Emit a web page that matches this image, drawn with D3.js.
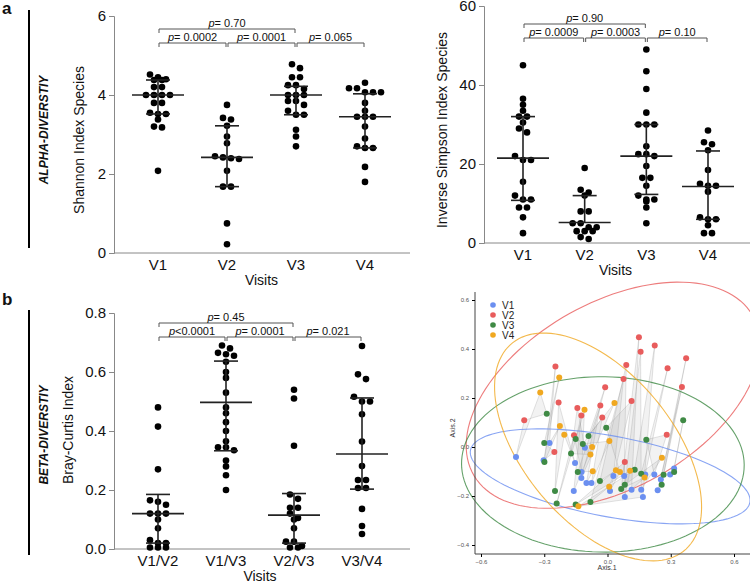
<!DOCTYPE html>
<html>
<head>
<meta charset="utf-8">
<script src="https://cdn.jsdelivr.net/npm/d3@7"></script>
<style>
  body { margin: 0; background: #fff; }
  text { font-family: "Liberation Sans", Arial, sans-serif; fill: #111; }
</style>
</head>
<body>
<svg id="fig" width="750" height="585"></svg>
<script>
// ---- data ----
const visits = ["V1", "V2", "V3", "V4"];
const pairs = ["V1/V2", "V1/V3", "V2/V3", "V3/V4"];

const shannon = [
  [4.52, 4.45, 4.38, 4.38, 4.4, 4.2, 4.2, 4.0, 4.0, 4.0, 4.0, 3.8, 3.8, 3.55, 3.52, 3.52, 3.38, 3.18, 3.2, 2.08],
  [3.75, 3.42, 3.38, 3.22, 2.95, 2.78, 2.45, 2.42, 2.4, 2.38, 2.08, 1.68, 1.68, 0.75, 0.22],
  [4.78, 4.68, 4.45, 4.45, 4.25, 4.25, 4.15, 4.0, 4.0, 4.0, 3.85, 3.85, 3.75, 3.6, 3.5, 3.5, 3.12, 2.95, 2.7],
  [4.31, 4.17, 4.17, 4.07, 4.07, 4.07, 3.8, 3.6, 3.45, 3.45, 3.45, 3.2, 2.9, 2.7, 2.66, 2.66, 2.18, 1.8]
];
const shannonMed = [4.0, 2.42, 4.0, 3.45];
const shannonQ1 = [3.52, 1.68, 3.5, 2.66];
const shannonQ3 = [4.38, 3.22, 4.22, 4.03];

const invSimpson = [
  [45, 36.5, 35, 33.5, 32, 32, 30.5, 29, 28, 22, 21, 21, 15.5, 12, 11, 11, 9, 9, 6.5, 2.5],
  [19, 13.5, 12.8, 12, 8, 8, 5, 5, 4, 4, 3, 3, 3, 1.5, 1],
  [49, 43.5, 39, 33, 30, 30, 30, 24.5, 22.5, 22.5, 22, 19.5, 16.5, 16.5, 14.5, 12, 11, 11, 10.5, 9, 5],
  [28.5, 25.5, 25, 23.5, 18.5, 15, 14.5, 14.5, 13, 6.5, 6, 6, 4.5, 2.5, 2.5]
];
const invMed = [21.5, 5.2, 22, 14.3];
const invQ1 = [10.8, 5.2, 12.3, 6];
const invQ3 = [32, 12, 30, 23.3];

const bray = [
  [0.48, 0.415, 0.27, 0.165, 0.16, 0.15, 0.12, 0.12, 0.12, 0.1, 0.07, 0.03, 0.02, 0.02, 0.005, 0.005, 0.005],
  [0.69, 0.68, 0.665, 0.66, 0.655, 0.635, 0.6, 0.58, 0.53, 0.48, 0.46, 0.43, 0.4, 0.365, 0.345, 0.345, 0.335, 0.3, 0.28, 0.25, 0.2],
  [0.54, 0.51, 0.35, 0.185, 0.17, 0.14, 0.14, 0.12, 0.105, 0.1, 0.07, 0.025, 0.025, 0.01, 0.005, 0.005],
  [0.688, 0.592, 0.576, 0.516, 0.5, 0.5, 0.457, 0.364, 0.281, 0.234, 0.234, 0.207, 0.207, 0.136, 0.078, 0.051]
];
const brayMed = [0.12, 0.497, 0.115, 0.322];
const brayQ1 = [0.02, 0.333, 0.02, 0.203];
const brayQ3 = [0.185, 0.637, 0.188, 0.512];

// p-value brackets: [from index, to index, label, level]
const shannonP = [[0, 2, "0.70", 1], [0, 1, "0.0002", 0], [1, 2, "0.0001", 0], [2, 3, "0.065", 0]];
const invP = [[0, 2, "0.90", 1], [0, 1, "0.0009", 0], [1, 2, "0.0003", 0], [2, 3, "0.10", 0]];
const brayP = [[0, 2, "= 0.45", 1], [0, 1, "<0.0001", 0], [1, 2, "= 0.0001", 0], [2, 3, "= 0.021", 0]];

// PCoA coordinates (Axis.1, Axis.2)
const pcoaV1 = [[-0.434,-0.041],[-0.303,-0.054],[-0.275,0.016],[-0.154,-0.065],[-0.123,-0.102],[-0.107,-0.003],[-0.16,-0.18],[-0.1,-0.147],[-0.076,-0.147],[-0.124,-0.127],[0.028,-0.118],[0.079,-0.118],[0.012,-0.18],[0.082,-0.204],[0.114,-0.174],[0.16,-0.174],[0.168,-0.204],[0.179,-0.112],[0.222,-0.112],[0.238,-0.177],[0.253,-0.133],[0.297,-0.112],[0.316,-0.088]];
const pcoaV2 = [[-0.395,0.109],[-0.252,-0.02],[-0.247,0.329],[-0.232,0.182],[-0.159,0.048],[-0.143,0.159],[-0.124,0.129],[-0.034,0.169],[-0.025,0.12],[-0.011,0.244],[0.076,0.278],[0.089,0.335],[0.114,0.188],[0.082,-0.061],[0.149,0.448],[0.157,0.389],[0.224,0.414],[0.285,0.321],[0.281,0.05],[0.353,0.245],[0.373,0.362]];
const pcoaV3 = [[-0.288,0.136],[-0.3,0.016],[-0.299,-0.061],[-0.249,-0.18],[-0.241,-0.231],[-0.173,-0.027],[-0.151,0.033],[-0.141,-0.102],[-0.117,0.012],[-0.09,0.045],[-0.081,-0.224],[-0.036,-0.139],[-0.006,0.079],[-0.151,-0.235],[0.065,-0.171],[0.082,-0.154],[0.129,-0.093],[0.16,-0.109],[0.184,0.03],[0.257,-0.154],[0.266,-0.113],[0.316,-0.102],[0.359,0.109]];
const pcoaV4 = [[-0.319,0.222],[-0.229,0.284],[-0.226,0.086],[-0.205,0.05],[-0.109,0.152],[-0.081,-0.031],[-0.073,0],[-0.07,-0.099],[0.009,0.024],[0.033,0.18],[0.008,-0.162],[0.04,-0.095],[0.059,-0.102],[0.107,-0.097],[0.176,-0.124],[0.258,-0.044],[-0.138,-0.242]];
const pcoaColors = ["#6b8ff0", "#e85c5c", "#3f8a45", "#f0a820"];

// ---- drawing ----
const svg = d3.select("#fig");

function dotPanel(o) {
  const g = svg.append("g");
  const x = d3.scalePoint().domain(o.cats).range(o.xr);
  const y = d3.scaleLinear().domain(o.ydom).range(o.yr);
  const yAx = g.append("g").attr("transform", `translate(${o.ax},0)`)
    .call(d3.axisLeft(y).tickValues(o.ticks).tickFormat(o.fmt).tickSize(5));
  yAx.selectAll("text").attr("font-size", 15);
  yAx.selectAll("path,line").attr("stroke", "#888");
  g.append("line").attr("x1", o.ax).attr("x2", o.axEnd).attr("y1", o.yr[0]).attr("y2", o.yr[0]).attr("stroke", "#888");
  o.cats.forEach(c => g.append("text").attr("x", x(c)).attr("y", o.yr[0] + 17)
    .attr("text-anchor", "middle").attr("font-size", 15).text(c));
  g.append("text").attr("x", (o.xr[0] + o.xr[1]) / 2).attr("y", o.yr[0] + 32)
    .attr("text-anchor", "middle").attr("font-size", 14).text("Visits");
  g.append("text").attr("transform", `translate(${o.ax - o.labOff},${o.labY}) rotate(-90)`)
    .attr("text-anchor", "middle").attr("font-size", 14).text(o.ylab);

  o.vals.forEach((vs, i) => {
    const cx = x(o.cats[i]);
    // simple beeswarm: group close values into rows
    const sorted = vs.slice().sort((a, b) => b - a);
    const rows = [];
    sorted.forEach(v => {
      const last = rows[rows.length - 1];
      if (last && Math.abs(y(last[0]) - y(v)) < 5) last.push(v); else rows.push([v]);
    });
    rows.forEach(r => r.forEach((v, k) => {
      g.append("circle").attr("cx", cx + (k - (r.length - 1) / 2) * 8).attr("cy", y(v))
        .attr("r", 3.3).attr("fill", "#000");
    }));
    const ln = (x1, x2, y1, y2) => g.append("line").attr("x1", x1).attr("x2", x2).attr("y1", y1).attr("y2", y2)
      .attr("stroke", "#222").attr("stroke-width", 1.6);
    ln(cx - 26, cx + 26, y(o.med[i]), y(o.med[i]));
    ln(cx, cx, y(o.q1[i]), y(o.q3[i]));
    if (o.q1[i] !== o.med[i]) ln(cx - 12, cx + 12, y(o.q1[i]), y(o.q1[i]));
    ln(cx - 12, cx + 12, y(o.q3[i]), y(o.q3[i]));
  });

  o.pv.forEach(([a, b, lab, lvl]) => {
    const yy = lvl ? o.brY - 14 : o.brY;
    const x1 = x(o.cats[a]) + 1, x2 = x(o.cats[b]) - 1;
    g.append("path").attr("d", `M${x1},${yy + 4}V${yy}H${x2}V${yy + 4}`)
      .attr("fill", "none").attr("stroke", "#555").attr("stroke-width", 1);
    const t = g.append("text").attr("x", (x1 + x2) / 2).attr("y", yy - 2)
      .attr("text-anchor", "middle").attr("font-size", 11);
    t.append("tspan").attr("font-style", "italic").text("p");
    t.append("tspan").text(lab.startsWith("=") || lab.startsWith("<") ? lab : "= " + lab);
  });
}

dotPanel({ cats: visits, vals: shannon, med: shannonMed, q1: shannonQ1, q3: shannonQ3,
  xr: [158, 365], yr: [253, 16], ydom: [0, 6], ticks: [0, 2, 4, 6], fmt: d3.format("d"),
  ax: 114, axEnd: 410, ylab: "Shannon Index Species", labOff: 30, labY: 140, pv: shannonP, brY: 43 });
dotPanel({ cats: visits, vals: invSimpson, med: invMed, q1: invQ1, q3: invQ3,
  xr: [523, 708], yr: [243, 6], ydom: [0, 60], ticks: [0, 20, 40, 60], fmt: d3.format("d"),
  ax: 484, axEnd: 750, ylab: "Inverse Simpson Index Species", labOff: 37, labY: 130, pv: invP, brY: 38 });
dotPanel({ cats: pairs, vals: bray, med: brayMed, q1: brayQ1, q3: brayQ3,
  xr: [158, 362], yr: [549, 313], ydom: [0, 0.8], ticks: [0, 0.2, 0.4, 0.6, 0.8], fmt: d3.format(".1f"),
  ax: 114, axEnd: 410, ylab: "Bray-Curtis Index", labOff: 41, labY: 430, pv: brayP, brY: 337 });

// section labels
[["a", 14, 10, 248, 130, "ALPHA-DIVERSTIY"], ["b", 305, 310, 555, 435, "BETA-DIVERSTIY"]].forEach(([l, ly, y1, y2, cy, t]) => {
  svg.append("text").attr("x", 2).attr("y", ly).attr("font-size", 17).attr("font-weight", "bold").text(l);
  svg.append("line").attr("x1", 29).attr("x2", 29).attr("y1", y1).attr("y2", y2).attr("stroke", "#000").attr("stroke-width", 2);
  svg.append("text").attr("transform", `translate(48,${cy}) rotate(-90)`).attr("text-anchor", "middle")
    .attr("font-size", 12).attr("font-weight", "bold").attr("font-style", "italic").text(t);
});

// ---- PCoA panel ----
const pg = svg.append("g");
const px = d3.scaleLinear().domain([-0.6, 0.6]).range([481, 734]);
const py = d3.scaleLinear().domain([-0.4, 0.6]).range([545, 300]);
const groups = [pcoaV1, pcoaV2, pcoaV3, pcoaV4];

// gray polygons linking samples across visits
const nMax = d3.max(groups, g => g.length);
for (let i = 0; i < nMax; i++) {
  const pts = groups.map(g => g[i]).filter(Boolean);
  pg.append("path").attr("d", "M" + pts.map(p => [px(p[0]), py(p[1])].join(",")).join("L") + "Z")
    .attr("fill", "rgba(150,150,150,0.12)").attr("stroke", "rgba(120,120,120,0.35)").attr("stroke-width", 0.6);
}

// ellipses from each group's covariance
groups.forEach((pts, gi) => {
  const mx = d3.mean(pts, p => p[0]), my = d3.mean(pts, p => p[1]);
  const sxx = d3.mean(pts, p => (p[0] - mx) ** 2), syy = d3.mean(pts, p => (p[1] - my) ** 2);
  const sxy = d3.mean(pts, p => (p[0] - mx) * (p[1] - my));
  const tr = sxx + syy, det = sxx * syy - sxy * sxy;
  const l1 = tr / 2 + Math.sqrt(tr * tr / 4 - det), l2 = tr / 2 - Math.sqrt(tr * tr / 4 - det);
  const ang = Math.atan2(l1 - sxx, sxy);
  const k = 3.3;
  const line = d3.range(0, 2 * Math.PI + 0.05, 0.05).map(t => {
    const a = k * Math.sqrt(l1) * Math.cos(t), b = k * Math.sqrt(l2) * Math.sin(t);
    return [px(mx + a * Math.cos(ang) - b * Math.sin(ang)), py(my + a * Math.sin(ang) + b * Math.cos(ang))];
  });
  pg.append("path").attr("d", d3.line()(line)).attr("fill", "none")
    .attr("stroke", pcoaColors[gi]).attr("stroke-width", 1.1).attr("opacity", 0.8);
});

groups.forEach((pts, gi) => pts.forEach(p => pg.append("circle")
  .attr("cx", px(p[0])).attr("cy", py(p[1])).attr("r", 3).attr("fill", pcoaColors[gi])));

const pxAx = pg.append("g").attr("transform", "translate(0,554)")
  .call(d3.axisBottom(px).tickValues([-0.6, -0.3, 0, 0.3, 0.6]).tickFormat(d3.format(".1f")).tickSize(3));
pxAx.select(".domain").attr("d", "M475,0H750").attr("stroke", "#444");
const pyAx = pg.append("g").attr("transform", "translate(475,0)")
  .call(d3.axisLeft(py).tickValues([-0.4, -0.2, 0, 0.2, 0.4, 0.6]).tickFormat(d3.format(".1f")).tickSize(3));
pyAx.select(".domain").attr("d", "M0,292V554").attr("stroke", "#444");
[pxAx, pyAx].forEach(a => a.selectAll("text").attr("font-size", 6).style("fill", "#555"));
pg.append("text").attr("x", 607).attr("y", 570).attr("text-anchor", "middle").attr("font-size", 7).style("fill", "#333").text("Axis.1");
pg.append("text").attr("transform", "translate(455,428) rotate(-90)").attr("text-anchor", "middle").attr("font-size", 7).style("fill", "#333").text("Axis.2");

visits.forEach((v, i) => {
  pg.append("circle").attr("cx", 493).attr("cy", 305 + i * 10).attr("r", 2.8).attr("fill", pcoaColors[i]);
  pg.append("text").attr("x", 502).attr("y", 309 + i * 10).attr("font-size", 10).style("fill", "#222").text(v);
});
</script>
</body>
</html>
